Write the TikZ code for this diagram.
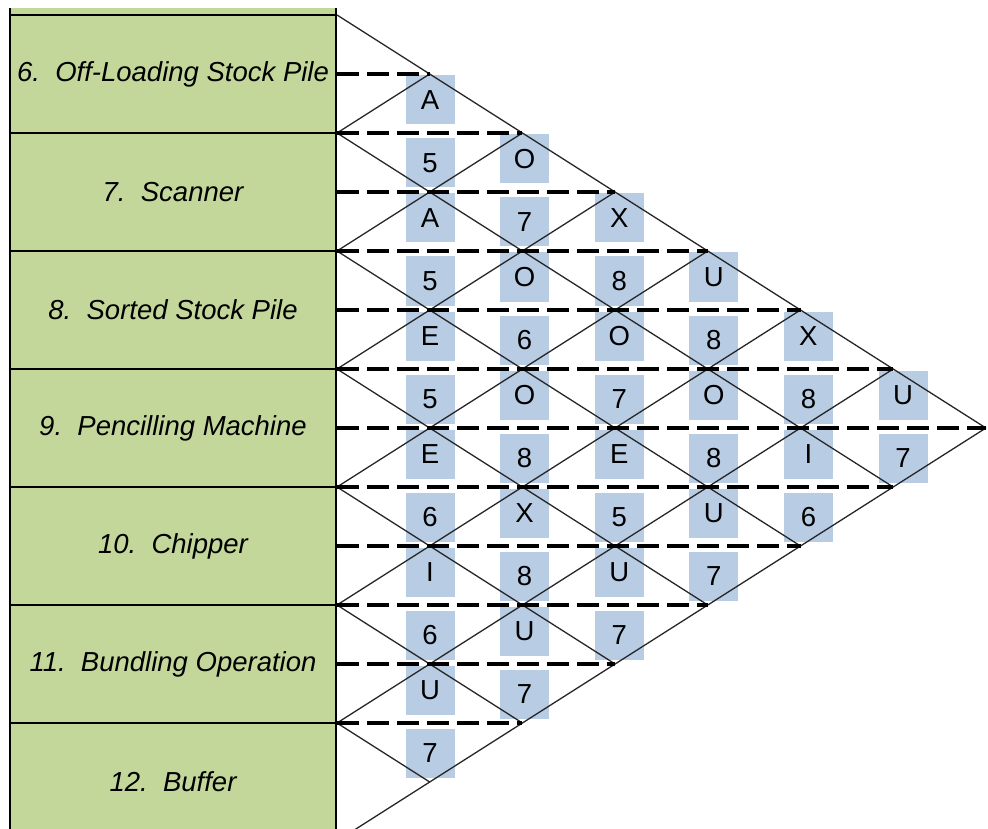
\documentclass[tikz,border=0pt]{standalone}
\usepackage{fontspec}
\setmainfont{Liberation Sans}
\usetikzlibrary{calc}
\definecolor{DeptGreen}{HTML}{C4D79B}
\definecolor{RelBlue}{HTML}{B8CCE4}
\newcommand{\chartfont}{\fontsize{27.5}{33}\selectfont}

\begin{document}
\begin{tikzpicture}[x=1pt, y=-1pt,
  dept/.style={draw, line width=1.6pt, fill=DeptGreen, minimum width=326pt,
    minimum height=118pt, inner sep=0pt, font=\chartfont\itshape},
  relbox/.style={fill=RelBlue, minimum width=49pt, minimum height=49pt,
    inner sep=0pt, font=\chartfont},
  diag/.style={line width=1.3pt, black!85},
  halfline/.style={line width=4pt, dash pattern=on 22pt off 8pt}]
  \useasboundingbox (0,0) rectangle (988,829);
  \clip (0,9) rectangle (988,829);
  \coordinate (Origin) at (337,15);

  % departments
  \node[dept] (D5) at (173,-44) {};
  \foreach \n/\dname [count=\k from 0] in {6/Off-Loading Stock Pile,
    7/Scanner, 8/Sorted Stock Pile, 9/Pencilling Machine, 10/Chipper,
    11/Bundling Operation, 12/Buffer}{%
    \node[dept] (D\n) at (173,74+118*\k) {\n.~~\dname};
  }

  % relationship letter and reason code
  \foreach \p/\q/\rel/\why in {6/7/A/5, 7/8/A/5, 8/9/E/5, 9/10/E/6,
    10/11/I/6, 11/12/U/7, 6/8/O/7, 7/9/O/6, 8/10/O/8, 9/11/X/8, 10/12/U/7,
    6/9/X/8, 7/10/O/7, 8/11/E/5, 9/12/U/7, 6/10/U/8, 7/11/O/8, 8/12/U/7,
    6/11/X/8, 7/12/I/6, 6/12/U/7}{%
    \pgfmathsetmacro{\cx}{335.4+94.6*(\q-\p)}
    \pgfmathsetmacro{\cy}{74+59*(\p+\q-12)}
    \node[relbox] (R\p-\q) at (\cx,\cy-33) {\rel};
    \node[relbox] (W\p-\q) at (\cx,\cy+30) {\why};
  }

  % diamond grid
  \foreach \k in {0,...,7}{%
    \coordinate (B\k) at (337,15+118*\k);
  }
  \foreach \k in {0,...,6}{%
    \draw[diag] (B\k) -- ++({92.7*(7-\k)},{59*(7-\k)});
  }
  \foreach \k in {1,...,7}{%
    \draw[diag] (B\k) -- ++({92.7*\k},{-59*\k});
  }
  \foreach \m in {1,...,12}{%
    \draw[halfline] (337,15+59*\m) -- ++({92.7*min(\m,14-\m)},0);
  }
\end{tikzpicture}
\end{document}
